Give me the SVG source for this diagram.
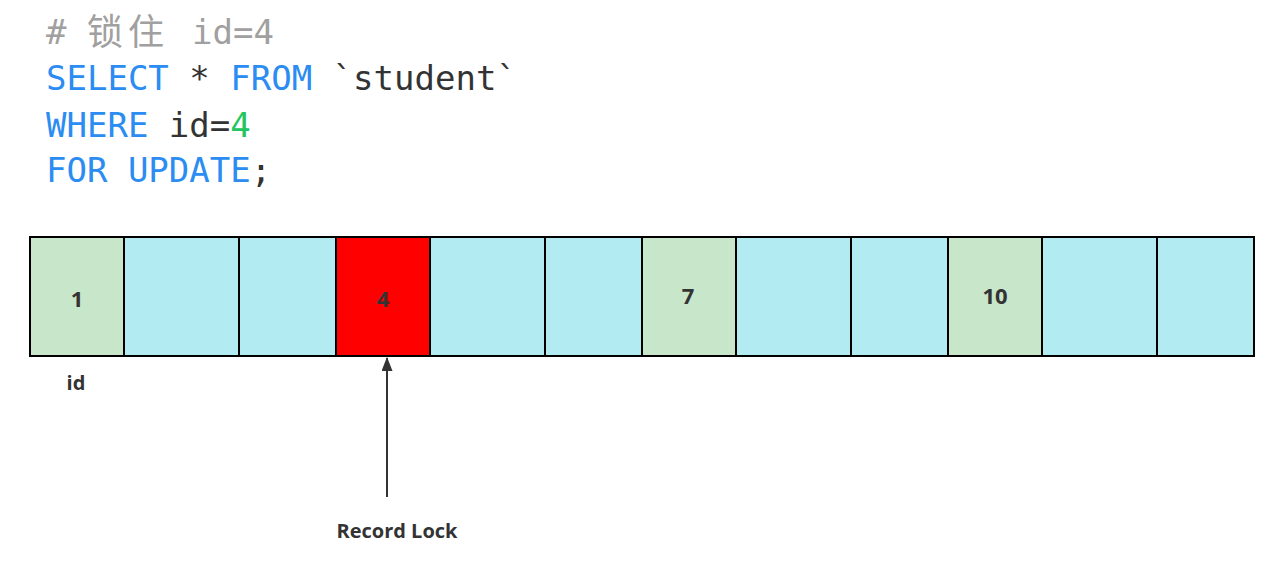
<svg xmlns="http://www.w3.org/2000/svg" width="1273" height="564" viewBox="0 0 1273 564">
<style>
.code{font-family:"DejaVu Sans Mono","Liberation Mono",monospace;font-size:34px}
.cjk{font-family:"Noto Sans CJK SC",sans-serif;font-size:36px}
.kw{fill:#2b8cf2}
.cm{fill:#a0a0a0}
.tx{fill:#333333}
.num{fill:#22c55e}
.cell{stroke:#000;stroke-width:2}
.g{fill:#c8e6c9}
.b{fill:#b2ebf2}
.r{fill:#ff0000}
.lbl{font-family:"Open Sans","Noto Sans",sans-serif;font-weight:bold;font-size:20px;fill:#333;text-anchor:middle}
.n{font-size:22px}
</style>
<defs>
<marker id="ah" markerWidth="14" markerHeight="11" refX="13" refY="5.5" orient="auto" markerUnits="userSpaceOnUse" viewBox="0 0 14 11">
<path d="M0,0 L14,5.5 L0,11 Z" fill="#333"/>
</marker>
</defs>
<g id="code">
<text class="code cm" x="46" y="44">#</text>
<text class="cjk cm" x="87" y="45" letter-spacing="5">锁住</text>
<text class="code cm" x="192" y="44">id=4</text>
<text class="code" x="46" y="90"><tspan class="kw">SELECT</tspan><tspan class="tx"> * </tspan><tspan class="kw">FROM</tspan><tspan class="tx"> `student`</tspan></text>
<text class="code" x="46" y="137"><tspan class="kw">WHERE</tspan><tspan class="tx"> id=</tspan><tspan class="num">4</tspan></text>
<text class="code" x="46" y="182"><tspan class="kw">FOR UPDATE</tspan><tspan class="tx">;</tspan></text>
</g>
<g id="cells">
<g id="c1"><rect class="cell g" x="30" y="237" width="94" height="119"/><text class="lbl n" x="77" y="307">1</text></g>
<g id="c2"><rect class="cell b" x="124" y="237" width="115" height="119"/></g>
<g id="c3"><rect class="cell b" x="239" y="237" width="97" height="119"/></g>
<g id="c4"><rect class="cell r" x="336" y="237" width="94" height="119"/><text class="lbl n" x="383" y="307">4</text></g>
<g id="c5"><rect class="cell b" x="430" y="237" width="115" height="119"/></g>
<g id="c6"><rect class="cell b" x="545" y="237" width="97" height="119"/></g>
<g id="c7"><rect class="cell g" x="642" y="237" width="94" height="119"/><text class="lbl n" x="688" y="304">7</text></g>
<g id="c8"><rect class="cell b" x="736" y="237" width="115" height="119"/></g>
<g id="c9"><rect class="cell b" x="851" y="237" width="97" height="119"/></g>
<g id="c10"><rect class="cell g" x="948" y="237" width="94" height="119"/><text class="lbl n" x="995" y="304">10</text></g>
<g id="c11"><rect class="cell b" x="1042" y="237" width="115" height="119"/></g>
<g id="c12"><rect class="cell b" x="1157" y="237" width="97" height="119"/></g>
</g>
<g id="id-label"><text class="lbl" x="76" y="390">id</text></g>
<g id="record-lock"><text class="lbl" x="397" y="538">Record Lock</text></g>
<g id="connectors">
<line x1="387" y1="497" x2="387" y2="358" stroke="#333" stroke-width="2" marker-end="url(#ah)"/>
</g>
</svg>
